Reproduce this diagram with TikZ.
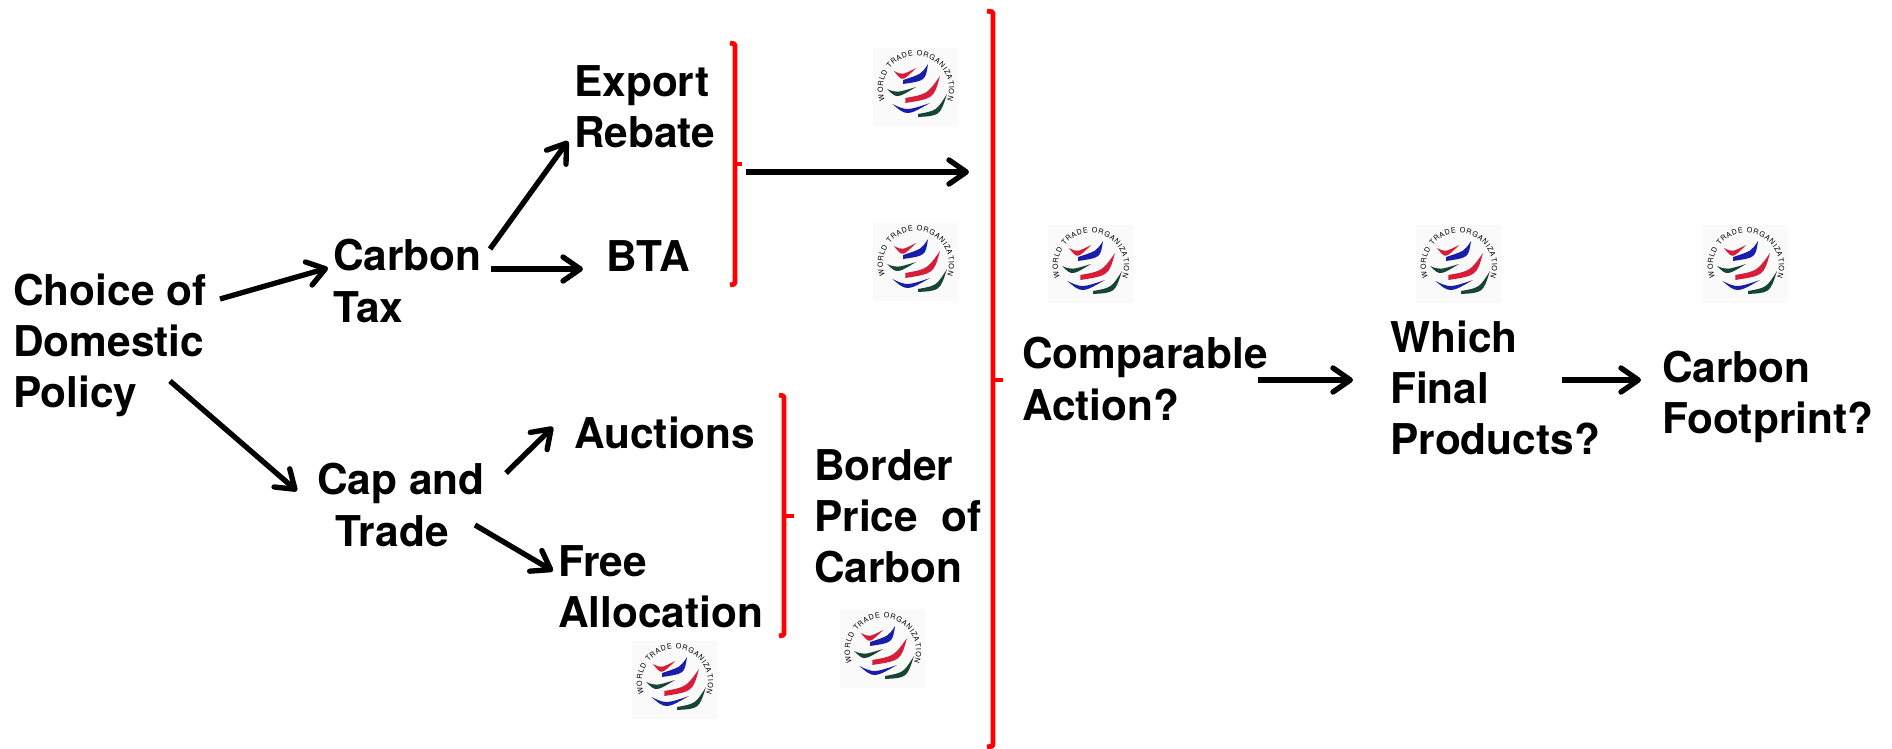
\documentclass[tikz,border=0pt]{standalone}
\usepackage{fontspec}
\setmainfont{TeX Gyre Heros}
\usetikzlibrary{arrows.meta,decorations.text}
\definecolor{wtored}{RGB}{214,30,58}
\definecolor{wtoblue}{RGB}{24,30,170}
\definecolor{wtogreen}{RGB}{22,70,50}
\tikzset{
  label/.style={inner sep=0pt, align=left, anchor=west, font=\fontsize{31.8}{38.3}\selectfont\bfseries},
  arrow/.style={->, line width=4pt},
  bracket/.style={red, line width=3.6pt, rounded corners=1pt},
  logo/.pic={
    \fill[white!98!black] (-40,-38) rectangle (45,40);
    \fill[wtored] (-19,-15) .. controls (-10.7,-4.2) .. (3,-18) .. controls (-10.7,-10.9) .. cycle;
    \fill[wtoblue] (-10,-2) .. controls (12.5,-5.3) .. (15,-22) .. controls (8.5,-12) .. (-10,-6) -- cycle;
    \fill[wtogreen] (-26,3) .. controls (-16.2,12.7) .. (3,1) .. controls (-16.2,6.9) .. cycle;
    \fill[wtored] (-7.7,17) .. controls (20.8,12.5) .. (27,-10) .. controls (14.1,8.1) .. (-7.7,12) -- cycle;
    \fill[wtoblue] (-20.7,18) .. controls (-6.1,30.2) .. (17,17) .. controls (-6.1,24.8) .. cycle;
    \fill[wtogreen] (5,31) .. controls (27,29.7) .. (34,8) .. controls (23.4,24.7) .. (5,28) -- cycle;
    \path[postaction={decorate, decoration={text along path, text align={fit to path},
        text={|\fontsize{5.4}{6}\selectfont|WORLD TRADE ORGANIZATION}}}]
      (3,3) ++(160:33) arc[start angle=160, end angle=380, radius=33];
  }
}
\begin{document}
\begin{tikzpicture}[x=0.75pt, y=-0.75pt, >={Straight Barb[round, length=13pt, width=18pt]}]
  \useasboundingbox (0,0) rectangle (1892,749);

  \node[label] (choice) at (13, 345) {Choice of\\Domestic\\Policy};
  \node[label] (carbon) at (333, 281) {Carbon\\Tax};
  \node[label] (export) at (574, 107) {Export\\Rebate};
  \node[label] (bta) at (606, 256) {BTA};
  \node[label] (cap) at (317, 505) {Cap and\\\hspace*{14pt}Trade};
  \node[label] (auctions) at (574, 433) {Auctions};
  \node[label] (free) at (558, 587) {Free\\Allocation};
  \node[label] (border) at (814, 516) {Border\\Price\ \ of\\Carbon};
  \node[label] (comparable) at (1022, 379) {Comparable\\Action?};
  \node[label] (final) at (1390, 388) {Which\\Final\\Products?};
  \node[label] (footprint) at (1662, 397) {Carbon\\Footprint?};

  \coordinate (tipa) at (742, 164);
  \coordinate (tipb) at (794, 516);
  \coordinate (tipc) at (1003, 380);

  % red brackets
  \draw[bracket] (730, 43) -- (735, 44) -- (735, 284) -- (730, 285);
  \draw[bracket] (735, 164) -- (tipa);
  \draw[bracket] (779, 395) -- (784, 396) -- (784, 635) -- (779, 636);
  \draw[bracket] (784, 516) -- (tipb);
  \draw[bracket] (987, 11) -- (993, 12) -- (993, 746) -- (987, 747);
  \draw[bracket] (993, 380) -- (tipc);

  \draw[arrow] ([shift={(207,-46)}]choice.west) -- ([shift={(-5,-13)}]carbon.west);
  \draw[arrow] ([shift={(157,36)}]choice.west) -- ([shift={(-20,-14)}]cap.west);
  \draw[arrow] ([shift={(157,-32)}]carbon.west) -- ([shift={(-6,34)}]export.west);
  \draw[arrow] ([shift={(158,-12)}]carbon.west) -- ([shift={(-23,13)}]bta.west);
  \draw[arrow] ([shift={(189,-32)}]cap.west) -- ([shift={(-21,-6)}]auctions.west);
  \draw[arrow] ([shift={(158,20)}]cap.west) -- ([shift={(-5,-16)}]free.west);
  \draw[arrow] ([shift={(4,8)}]tipa) -- ([shift={(-34,-208)}]tipc);
  \draw[arrow] ([shift={(236,1)}]comparable.west) -- ([shift={(-37,-8)}]final.west);
  \draw[arrow] ([shift={(172,-8)}]final.west) -- ([shift={(-21,-17)}]footprint.west);

  \pic at (913, 86) {logo};
  \pic at (913, 261) {logo};
  \pic at (1088, 263) {logo};
  \pic at (1456, 263) {logo};
  \pic at (1743, 263) {logo};
  \pic at (880, 648) {logo};
  \pic at (672, 679) {logo};
\end{tikzpicture}
\end{document}
